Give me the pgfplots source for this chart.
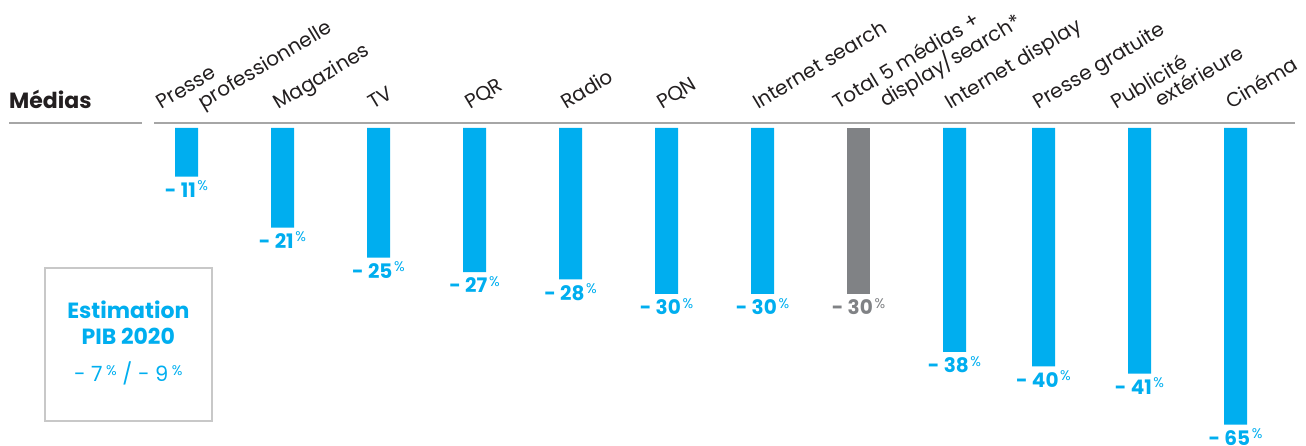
\documentclass[border=0pt]{standalone}
\usepackage{fontspec}
\setmainfont{Poppins}
\usepackage{pgfplots}
\usepackage{pgfplotstable}
\pgfplotsset{compat=1.18}
\definecolor{cblue}{RGB}{0,174,239}
\definecolor{cgrey}{RGB}{128,130,133}
\definecolor{ctext}{RGB}{35,31,32}
\definecolor{cline}{RGB}{166,166,166}
\definecolor{cbox}{RGB}{200,200,200}

\pgfplotstableread{
x y lab
0 -11 11
1 -21 21
2 -25 25
3 -27 27
4 -28 28
5 -30 30
6 -30 30
8 -38 38
8.927 -40 40
9.927 -41 41
10.927 -65 65
}\bluedata
\pgfplotstableread{
x y lab
7 -30 30
}\greydata

\newcommand{\px}[2]{([shift={(#1pt,-#2pt)}]rel axis cs:0,1)}
\tikzset{lab/.style={rotate=31, anchor=base west, inner sep=0pt, font=\fontsize{20}{20}\selectfont, text=ctext}}
\newcommand{\vallab}{{\fontsize{20}{20}\selectfont\bfseries - \pgfplotspointmeta}\,\raisebox{6.5pt}{\fontsize{14}{14}\selectfont\%}}

\begin{document}
\begin{tikzpicture}
\begin{axis}[
  scale only axis,
  width=1306pt, height=445pt,
  xmin=-1.94271, xmax=11.66146,
  ymin=-74.553, ymax=28.913,
  enlargelimits=false,
  hide axis,
  clip=false,
  y coord trafo/.code={%
    \begingroup
    \pgfkeys{/pgf/fpu=false}%
    \pgfmathparse{-(4.427*min(-(#1),11) + 5.1*max(0,min(-(#1),21)-11) + 7.5*max(0,min(-(#1),25)-21) + 7.25*max(0,min(-(#1),41)-25) + 2.125*max(0,-(#1)-41))}%
    \xdef\mytrafores{\pgfmathresult}%
    \endgroup
    \let\pgfmathresult\mytrafores},
  nodes near coords align=vertical,
  every node near coord/.append style={anchor=north, inner sep=0pt, yshift=-4pt},
]
\path (rel axis cs:0,0) rectangle (rel axis cs:1,1);

\addplot[ybar, bar width=23pt, bar shift=0pt, fill=cblue, draw=none,
  point meta=explicit symbolic,
  nodes near coords={\vallab},
  every node near coord/.append style={text=cblue}]
  table[x=x, y=y, meta=lab] {\bluedata};
\addplot[ybar, bar width=23pt, bar shift=0pt, fill=cgrey, draw=none,
  point meta=explicit symbolic,
  nodes near coords={\vallab},
  every node near coord/.append style={text=cgrey}]
  table[x=x, y=y, meta=lab] {\greydata};

% header
\node[anchor=base west, inner sep=0pt, font=\fontsize{22}{22}\selectfont\bfseries, text=ctext] at \px{9}{108.3} {Médias};
\draw[cline, line width=1.8pt] \px{9}{122.7} -- \px{142}{122.7};
\draw[cline, line width=1.8pt] \px{154}{122.7} -- \px{1295}{122.7};

% category labels
\node[lab] at \px{161.7}{110} {Presse};
\node[lab] at \px{203}{109.5} {professionnelle};
\node[lab] at \px{278.5}{110} {Magazines};
\node[lab] at \px{373.5}{110} {TV};
\node[lab] at \px{470}{110} {PQR};
\node[lab] at \px{566}{110} {Radio};
\node[lab] at \px{662}{110} {PQN};
\node[lab] at \px{758}{110} {Internet search};
\node[lab] at \px{838.3}{110} {Total 5 médias +};
\node[lab] at \px{885}{108} {display/search*};
\node[lab] at \px{950}{110} {Internet display};
\node[lab] at \px{1038.3}{110} {Presse gratuite};
\node[lab] at \px{1116.7}{110} {Publicité};
\node[lab] at \px{1160}{108} {extérieure};
\node[lab] at \px{1231}{110} {Cinéma};

% GDP box
\draw[cbox, line width=2pt] \px{45}{268.3} rectangle \px{211.7}{420.7};
\node[anchor=base, inner sep=0pt, font=\fontsize{22}{22}\selectfont\bfseries, text=cblue] at \px{128.3}{318.3} {Estimation};
\node[anchor=base, inner sep=0pt, font=\fontsize{22}{22}\selectfont\bfseries, text=cblue] at \px{128.3}{344.3} {PIB 2020};
\node[anchor=base, inner sep=0pt, font=\fontsize{21}{21}\selectfont, text=cblue] at \px{128.3}{381.7} {- 7\,\raisebox{6.5pt}{\fontsize{14}{14}\selectfont\%} / - 9\,\raisebox{6.5pt}{\fontsize{14}{14}\selectfont\%}};
\end{axis}
\end{tikzpicture}
\end{document}
